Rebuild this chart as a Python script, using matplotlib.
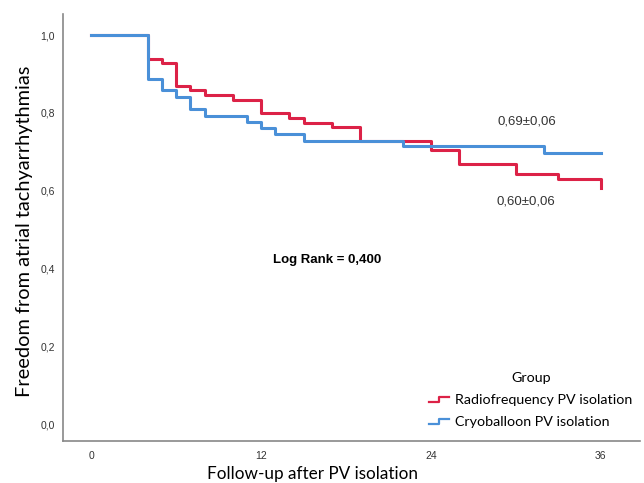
import matplotlib
matplotlib.use("Agg")
import matplotlib.pyplot as plt
from matplotlib.lines import Line2D
from matplotlib.legend_handler import HandlerLine2D

# Kaplan-Meier estimates (months, cumulative freedom)
rf_time = [0, 4, 5, 6, 7, 8, 10, 12, 14, 15, 17, 19, 24, 26, 30, 33, 36]
rf_surv = [1.0, 0.938, 0.929, 0.869, 0.858, 0.846, 0.833, 0.799, 0.786,
           0.774, 0.763, 0.727, 0.704, 0.668, 0.644, 0.631, 0.607]
cryo_time = [0, 4, 5, 6, 7, 8, 11, 12, 13, 15, 22, 32, 36]
cryo_surv = [1.0, 0.887, 0.859, 0.842, 0.810, 0.792, 0.778, 0.762, 0.745,
             0.729, 0.714, 0.698, 0.698]

group_names = ["Radiofrequency PV isolation", "Cryoballoon PV isolation"]
x_ticks = [0, 12, 24, 36]
y_ticks = [0.0, 0.2, 0.4, 0.6, 0.8, 1.0]

RED = "#dc2247"
BLUE = "#4a90d8"


class StepHandler(HandlerLine2D):
    # legend key drawn as a small step like the survival curves
    def create_artists(self, legend, orig_handle, xdescent, ydescent,
                       width, height, fontsize, trans):
        x0 = -xdescent
        y_lo = -ydescent + height * 0.2
        y_hi = -ydescent + height * 0.75
        xm = x0 + width * 0.5
        line = Line2D([x0, xm, xm, x0 + width], [y_lo, y_lo, y_hi, y_hi],
                      color=orig_handle.get_color(), lw=1.6)
        line.set_transform(trans)
        return [line]


fig = plt.figure(figsize=(6.44, 4.83), dpi=100)
ax = fig.add_axes([0.098, 0.087, 0.896, 0.884])

l1, = ax.step(rf_time, rf_surv, where="post", color=RED, lw=2.2)
l2, = ax.step(cryo_time, cryo_surv, where="post", color=BLUE, lw=2.2)

ax.set_xlim(-2, 38.8)
ax.set_ylim(-0.042, 1.054)
ax.set_xticks(x_ticks)
ax.set_xticklabels([str(t) for t in x_ticks])
ax.set_yticks(y_ticks)
ax.set_yticklabels([f"{v:.1f}".replace(".", ",") for v in y_ticks])
ax.tick_params(axis="y", length=0, labelsize=7.5, labelcolor="#333333", pad=6)
ax.tick_params(axis="x", length=0, labelsize=7.5, labelcolor="#333333", pad=7)
for lab in ax.get_xticklabels() + ax.get_yticklabels():
    lab.set_family("Liberation Sans")

for side in ["top", "right"]:
    ax.spines[side].set_visible(False)
for side in ["left", "bottom"]:
    ax.spines[side].set_color("#888888")
    ax.spines[side].set_linewidth(1.2)

ax.set_xlabel("Follow-up after PV isolation", fontsize=12.3, family="Lato")
ax.xaxis.set_label_coords(0.432, -0.058)
ax.set_ylabel("Freedom from atrial tachyarrhythmias", fontsize=14.4,
              family="Lato")
ax.yaxis.set_label_coords(-0.052, 0.49)

ax.text(30.8, 0.777, "0,69±0,06", fontsize=9.5, color="#333333",
        family="Liberation Sans", ha="center", va="center")
ax.text(30.7, 0.572, "0,60±0,06", fontsize=9.5, color="#333333",
        family="Liberation Sans", ha="center", va="center")
ax.text(16.7, 0.423, "Log Rank = 0,400", fontsize=9.5, fontweight="bold",
        family="Liberation Sans", ha="center", va="center")

leg = ax.legend([l1, l2], group_names, title="Group", frameon=False,
                handler_map={Line2D: StepHandler()},
                loc="lower right", bbox_to_anchor=(1.009, 0.0),
                prop={"family": "Lato", "size": 10.3},
                handlelength=1.4, handletextpad=0.4, labelspacing=0.7)
leg.get_title().set_fontfamily("Lato")
leg.get_title().set_fontsize(10.3)
leg._legend_handle_box.sep = 9

fig.savefig("out.png", dpi=100)
